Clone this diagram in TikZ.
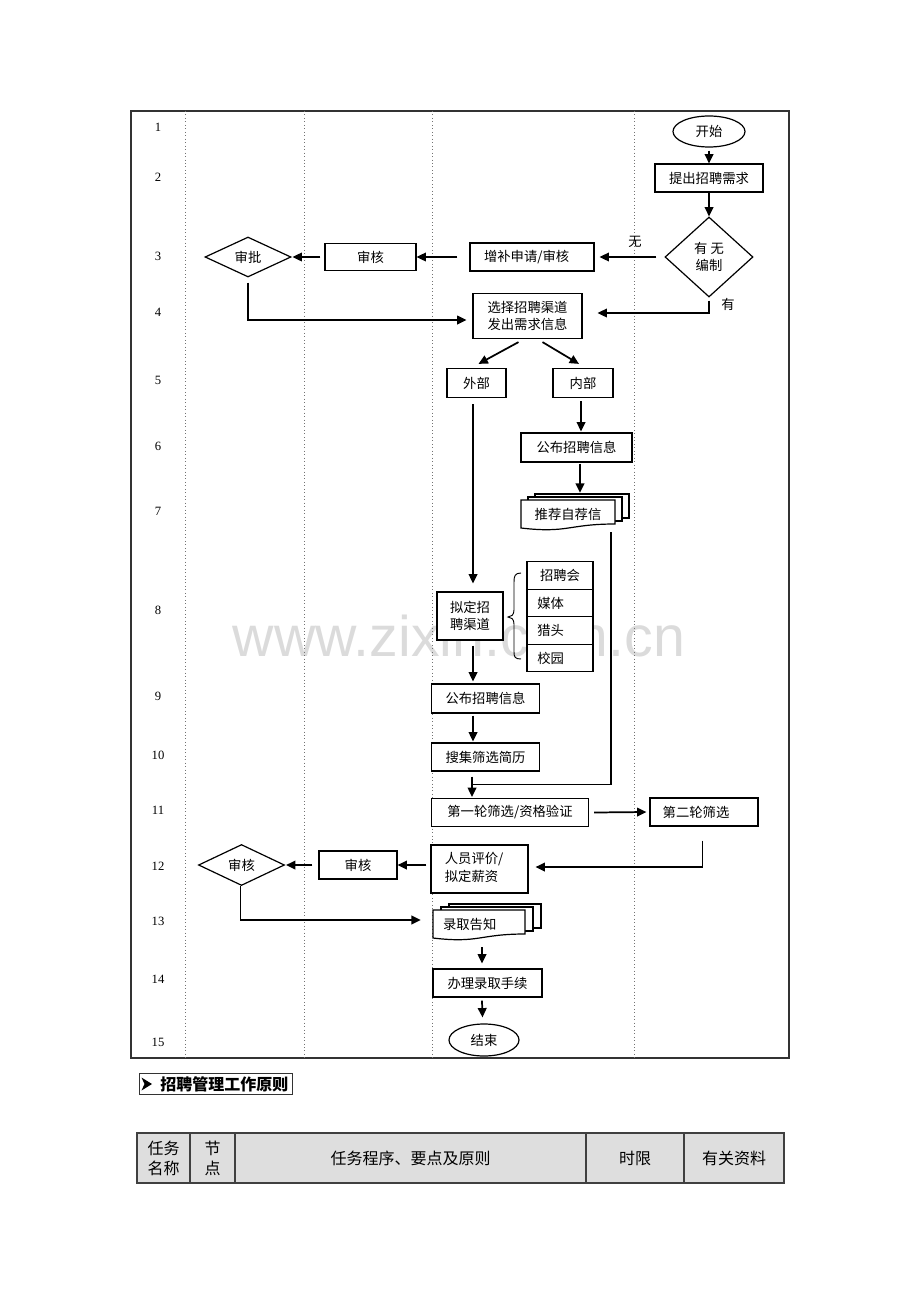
\documentclass[tikz,border=0pt]{standalone}
\usepackage{fontspec}
\setmainfont{Liberation Serif}
\newfontfamily\cjk{Noto Sans CJK SC}
\newfontfamily\wmfont{Liberation Sans}
\usetikzlibrary{shapes.geometric,arrows.meta,calc}
\tikzset{
  txt/.style={font=\cjk\fontsize{10}{13}\selectfont, align=center},
  box/.style={txt, draw, line width=0.9pt, rectangle, inner sep=0pt, fill=white},
  wh/.style 2 args={minimum width=#1*0.75pt, minimum height=#2*0.75pt},
  dia/.style={txt, draw, diamond, line width=0.9pt, inner sep=0pt, fill=white},
  oval/.style={txt, draw, ellipse, line width=0.9pt, inner sep=0pt, fill=white},
  ghost/.style={txt, rectangle, inner sep=0pt},
  arr/.style={-{Triangle[length=7pt,width=6.5pt]}, line width=1.3pt},
  ln/.style={line width=1.3pt},
  lane/.style={black!55, dotted, line width=0.6pt},
  num/.style={font=\fontsize{9.5}{11}\selectfont},
  docline/.style={line width=0.9pt, fill=white},
  cell/.style={draw=black!75, line width=1pt, fill=black!13, inner sep=0pt, align=center,
     font=\cjk\fontsize{12}{15}\selectfont, minimum height=50*0.75pt}
}
\begin{document}
\begin{tikzpicture}[x=0.75pt,y=-0.75pt]
\useasboundingbox (0,0) rectangle (920,1302);
% watermark
\node[font=\wmfont\fontsize{43}{43}\selectfont, text=black!14, inner sep=0pt] (wm) at (459,636) {www.zixin.com.cn};
% frame and lanes
\draw[black!80, line width=0.8pt] (131,111) rectangle (789,1058);
\foreach \x in {185,304,432,634} \draw[lane] (\x,111) -- (\x,1058);
% row numbers
\foreach \n/\y in {1/127,2/177,3/256,4/312,5/380,6/446,7/511,8/610,9/696,10/755,11/810,12/866,13/921,14/979,15/1042}
  \node[num] (n\n) at (158,\y) {\n};
% nodes
\node[oval, wh={72}{31}] (start) at (709,131.5) {开始};
\node[box, wh={108}{28}] (req) at (709,178) {提出招聘需求};
\node[dia, wh={88}{80}] (bz) at (709,257) {有 无\\编制};
\node[box, wh={124}{28}] (zb) at (532,257) {\hspace*{-8pt}增补申请/审核};
\node[box, wh={91}{27}] (sh1) at (370.5,257) {审核};
\node[dia, wh={86}{40}] (sp) at (248,257) {审批};
\node[box, wh={109}{45}] (xz) at (527.5,316) {选择招聘渠道\\发出需求信息};
\node[box, wh={59}{29}] (wb) at (476.5,383) {外部};
\node[box, wh={60}{29}] (nb) at (583,383) {内部};
\node[box, wh={111}{29}] (gb1) at (576.5,447.5) {公布招聘信息};
% recommend letters (multi document)
\draw[docline] (535,494) rectangle (629,518);
\draw[docline] (528,497) rectangle (622,521);
\draw[docline] (521,500) -- (615,500) -- (615,524) .. controls (568,524) and (568,533.5) .. (521,528) -- cycle;
\node[ghost, wh={94}{28}] (tj) at (568,514) {推荐自荐信};
\node[box, wh={66}{48}] (nd) at (470,616) {拟定招\\聘渠道};
\node[box, wh={66}{27.5}] (ch1) at (560,575.5) {招聘会};
\node[box, wh={66}{27.5}] (ch2) at (560,603) {\hspace*{-14pt}媒体};
\node[box, wh={66}{27.5}] (ch3) at (560,630.5) {\hspace*{-14pt}猎头};
\node[box, wh={66}{27.5}] (ch4) at (560,658) {\hspace*{-14pt}校园};
\draw[line width=0.7pt] (521,573) .. controls (515,573) and (514,576) .. (514,582) -- (514,610)
  .. controls (514,615) and (511,617) .. (508,617) .. controls (511,617) and (514,619) .. (514,624)
  -- (514,652) .. controls (514,657) and (515,659) .. (521,659);
\node[box, wh={108}{29}] (gb2) at (485.5,698.5) {公布招聘信息};
\node[box, wh={108}{28}] (sj) at (485.5,757) {搜集筛选简历};
\node[box, wh={157}{28}] (d1) at (510,812.5) {第一轮筛选/资格验证};
\node[box, wh={108}{28}] (d2) at (704,812) {\hspace*{-12pt}第二轮筛选};
\node[box, wh={97}{48}] (ry) at (479.5,869) {\hspace*{-8pt}\begin{tabular}{@{}l@{}}人员评价/\\拟定薪资\end{tabular}};
\node[box, wh={78}{28}] (sh2) at (358,865) {审核};
\node[dia, wh={86}{41}] (shd) at (241.5,865) {审核};
% admission letters
\draw[docline] (449,904) rectangle (541,928);
\draw[docline] (441,907) rectangle (533,931);
\draw[docline] (433,910) -- (525,910) -- (525,934) .. controls (479,934) and (479,943.5) .. (433,938) -- cycle;
\node[ghost, wh={92}{28}] (lq) at (479,924) {\hspace*{-14pt}录取告知};
\node[box, wh={109}{28}] (bl) at (487.5,983) {办理录取手续};
\node[oval, wh={70}{32}] (end) at (484,1040) {结束};
% connectors
\draw[arr] ($(start.south)+(0,3)$) -- (req.north);
\draw[arr] (req.south) -- (bz.north);
\draw[arr] ($(bz.west)+(-8,0)$) -- ($(zb.east)+(5,0)$);
\node[txt] (wu) at (635,242) {无};
\draw[arr] ($(zb.west)+(-12,0)$) -- (sh1.east);
\draw[arr] ($(sh1.west)+(-4,0)$) -- ($(sp.east)+(1,0)$);
\draw[arr] ($(sp.south)+(0,5)$) |- ($(xz.west)+(-6,4)$);
\draw[arr] ($(bz.south)+(0,3)$) |- ($(xz.east)+(15,-3)$);
\node[txt] (you) at (728,304) {有};
\draw[arr] ($(xz.south)+(-9,3)$) -- ($(wb.north)+(2,-4)$);
\draw[arr] ($(xz.south)+(15,3)$) -- ($(nb.north)+(-4,-4)$);
\draw[arr] ($(nb.south)+(-2,3)$) -- ($(gb1.north)+(4.5,-1)$);
\draw[arr] ($(gb1.south)+(3.5,1)$) -- ($(tj.north)+(12,-7)$);
\draw[arr] ($(wb.south)+(-3.5,6)$) -- ($(nd.north)+(3,-8)$);
\draw[arr] ($(nd.south)+(3,5)$) -- ($(gb2.north)+(-12.5,-2)$);
\draw[arr] ($(gb2.south)+(-12.5,2)$) -- ($(sj.north)+(-12.5,-1)$);
\draw[ln] ($(tj.south east)+(-4,4)$) |- ($(sj.south)+(-13.5,13)$);
\draw[arr] ($(sj.south)+(-13.5,5)$) -- ($(d1.north)+(-38,-1)$);
\draw[arr] ($(d1.east)+(5,0)$) -- ($(d2.west)+(-3,0)$);
\draw[arr] ($(d2.south)+(-1.5,14)$) |- ($(ry.east)+(7,-2)$);
\draw[arr] ($(ry.west)+(-4,-4)$) -- (sh2.east);
\draw[arr] ($(sh2.west)+(-6,0)$) -- ($(shd.east)+(1,0)$);
\draw[arr] ($(shd.south)+(-1,0)$) |- ($(lq.west)+(-12,-4)$);
\draw[arr] ($(lq.south)+(3,9)$) -- ($(bl.north)+(-5.5,-5)$);
\draw[arr] ($(bl.south)+(-5.5,3)$) -- ($(end.north)+(-1.5,-6)$);
% section title
\node[draw, black!80, line width=0.7pt, wh={153}{21}, inner sep=0pt] (ttl) at (215.5,1083.5) {};
\fill (141.5,1077.5) -- (152,1084) -- (141.5,1090.5) -- (144.5,1084) -- cycle;
\node[font=\cjk\bfseries\fontsize{12}{14}\selectfont, anchor=west, inner sep=0pt] (ttltext) at (160,1084) {招聘管理工作原则};
% table header
\node[cell, minimum width=53*0.75pt] (c1) at (163.5,1158) {任务\\名称};
\node[cell, minimum width=45*0.75pt] (c2) at (212.5,1158) {节\\点};
\node[cell, minimum width=351*0.75pt] (c3) at (410.5,1158) {任务程序、要点及原则};
\node[cell, minimum width=98*0.75pt] (c4) at (635,1158) {时限};
\node[cell, minimum width=100*0.75pt] (c5) at (734,1158) {有关资料};
\end{tikzpicture}
\end{document}
